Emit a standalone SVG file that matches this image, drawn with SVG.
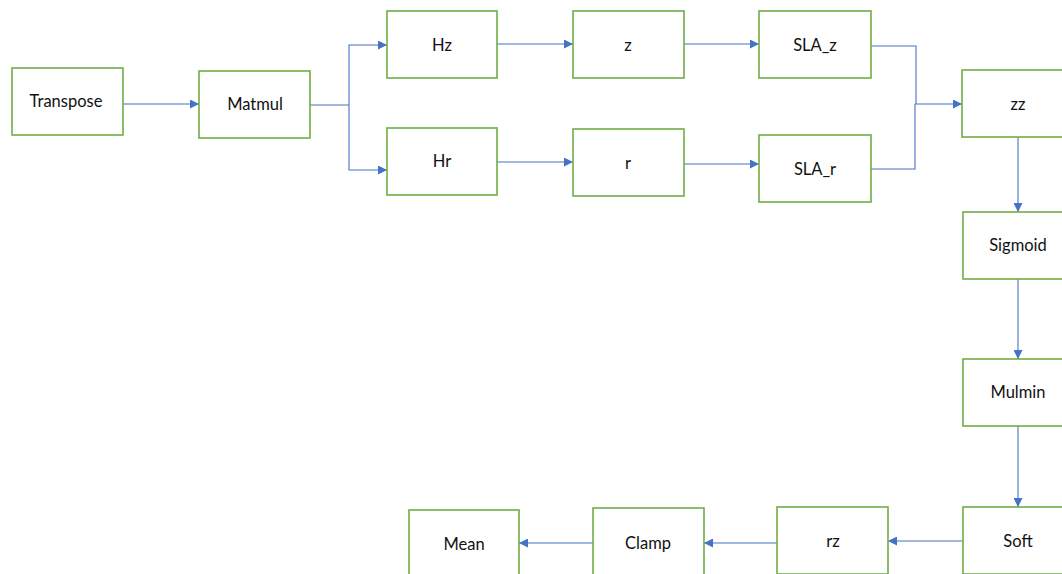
<svg xmlns="http://www.w3.org/2000/svg" width="1062" height="574" viewBox="0 0 1062 574">
<defs>
<marker id="ah" viewBox="0 0 10 10" refX="10" refY="5" markerWidth="10" markerHeight="9" markerUnits="userSpaceOnUse" orient="auto">
<path d="M0,0 L10,5 L0,10 z" fill="#4472C4"/>
</marker>
<style>
.box{fill:#fff;stroke:#70AD47;stroke-width:1.6}
.lbl{font-family:Lato,"Open Sans","Liberation Sans",sans-serif;font-size:16.5px;fill:#111;text-anchor:middle;dominant-baseline:central}
.c{fill:none;stroke:#4472C4;stroke-width:1.1}
.ca{fill:none;stroke:#4472C4;stroke-width:1.1;marker-end:url(#ah)}
</style>
</defs>
<rect width="1062" height="574" fill="#fff"/>
<g id="connectors">
<path class="ca" d="M123,104 L199,104"/>
<path class="c" d="M310,105 L349,105"/>
<path class="ca" d="M349,105 L349,45 L387,45"/>
<path class="ca" d="M349,105 L349,170 L387,170"/>
<path class="ca" d="M497,44 L573,44"/>
<path class="ca" d="M497,162 L573,162"/>
<path class="ca" d="M684,44 L759,44"/>
<path class="ca" d="M684,164 L759,164"/>
<path class="c" d="M871,46 L916,46 L916,104"/>
<path class="c" d="M871,169 L915,169 L915,104"/>
<path class="ca" d="M915,104 L962,104"/>
<path class="ca" d="M1018,133 L1018,212"/>
<path class="ca" d="M1018,279 L1018,359"/>
<path class="ca" d="M1018,426 L1018,507"/>
<path class="ca" d="M963,541 L888,541"/>
<path class="ca" d="M777,543 L704,543"/>
<path class="ca" d="M593,543 L519,543"/>
</g>
<g id="transpose"><rect class="box" x="12" y="68" width="111" height="67"/><text class="lbl" x="66" y="101">Transpose</text></g>
<g id="matmul"><rect class="box" x="199" y="71" width="111" height="67"/><text class="lbl" x="255" y="104">Matmul</text></g>
<g id="hz"><rect class="box" x="387" y="11" width="110" height="67"/><text class="lbl" x="442" y="45">Hz</text></g>
<g id="z"><rect class="box" x="573" y="11" width="111" height="67"/><text class="lbl" x="628" y="45">z</text></g>
<g id="sla_z"><rect class="box" x="759" y="11" width="112" height="67"/><text class="lbl" x="815" y="45">SLA_z</text></g>
<g id="hr"><rect class="box" x="387" y="128" width="110" height="67"/><text class="lbl" x="442" y="161">Hr</text></g>
<g id="r"><rect class="box" x="573" y="129" width="111" height="67"/><text class="lbl" x="628" y="163">r</text></g>
<g id="sla_r"><rect class="box" x="759" y="135" width="112" height="67"/><text class="lbl" x="815" y="169">SLA_r</text></g>
<g id="zz"><rect class="box" x="962" y="70" width="111" height="67"/><text class="lbl" x="1018" y="104">zz</text></g>
<g id="sigmoid"><rect class="box" x="963" y="212" width="111" height="67"/><text class="lbl" x="1018" y="245">Sigmoid</text></g>
<g id="mulmin"><rect class="box" x="963" y="359" width="111" height="67"/><text class="lbl" x="1018" y="392">Mulmin</text></g>
<g id="soft"><rect class="box" x="963" y="507" width="111" height="67"/><text class="lbl" x="1018" y="541">Soft</text></g>
<g id="rz"><rect class="box" x="777" y="507" width="111" height="67"/><text class="lbl" x="833" y="541">rz</text></g>
<g id="clamp"><rect class="box" x="593" y="508" width="111" height="67"/><text class="lbl" x="648" y="543">Clamp</text></g>
<g id="mean"><rect class="box" x="409" y="510" width="110" height="67"/><text class="lbl" x="464" y="544">Mean</text></g>
</svg>
